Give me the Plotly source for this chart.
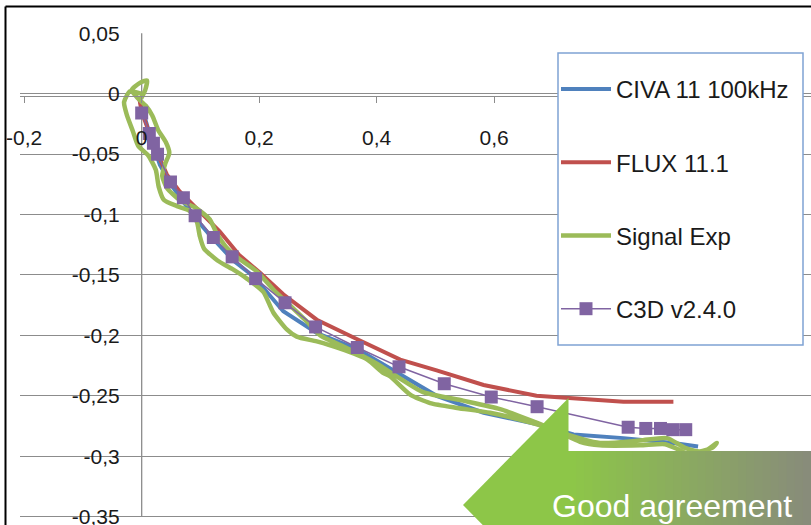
import plotly.graph_objects as go

# ---------------- data ----------------
civa_x = [-0.003, 0.014, 0.031, 0.054, 0.088, 0.116, 0.156, 0.190, 0.241, 0.298, 0.366,
          0.440, 0.502, 0.582, 0.678, 0.735, 0.820, 0.905, 0.947]
civa_y = [-0.006, -0.034, -0.059, -0.078, -0.101, -0.117, -0.138, -0.151, -0.180, -0.198, -0.211,
          -0.232, -0.250, -0.264, -0.274, -0.282, -0.285, -0.289, -0.292]

flux_x = [-0.004, 0.000, 0.020, 0.043, 0.065, 0.099, 0.133, 0.167, 0.201, 0.241, 0.298,
          0.366, 0.440, 0.502, 0.582, 0.672, 0.723, 0.820, 0.905]
flux_y = [-0.004, -0.015, -0.042, -0.067, -0.081, -0.098, -0.114, -0.134, -0.148, -0.166, -0.187,
          -0.203, -0.220, -0.229, -0.241, -0.250, -0.252, -0.255, -0.255]

sig_x = [-0.001, 0.006, 0.009, -0.003, -0.017, -0.006, 0.007, 0.018, 0.028, 0.041, 0.047,
         0.040, 0.035, 0.043, 0.065, 0.094, 0.116, 0.127, 0.144, 0.167, 0.196, 0.224,
         0.252, 0.280, 0.304, 0.338, 0.372, 0.406, 0.431, 0.479, 0.547, 0.610, 0.671,
         0.712, 0.780, 0.848, 0.894, 0.925, 0.950, 0.971, 0.979,
         0.959, 0.938, 0.916, 0.891, 0.848, 0.780, 0.746, 0.705, 0.661, 0.593, 0.537,
         0.491, 0.457, 0.423, 0.411, 0.384, 0.338, 0.298, 0.264, 0.247, 0.224, 0.207,
         0.179, 0.154, 0.129, 0.106, 0.099, 0.094, 0.082, 0.060, 0.038, 0.029, 0.024,
         0.011, -0.006, -0.015, -0.025, -0.030, -0.020, -0.001]
sig_y = [-0.004, 0.003, 0.011, 0.009, 0.003, -0.004, -0.010, -0.018, -0.030, -0.040, -0.049,
         -0.058, -0.068, -0.078, -0.088, -0.095, -0.104, -0.115, -0.127, -0.137, -0.147, -0.162,
         -0.175, -0.188, -0.200, -0.208, -0.216, -0.225, -0.233, -0.247, -0.254, -0.261, -0.272,
         -0.280, -0.289, -0.287, -0.285, -0.293, -0.296, -0.293, -0.289,
         -0.296, -0.300, -0.295, -0.290, -0.291, -0.291, -0.288, -0.279, -0.272, -0.264, -0.260,
         -0.256, -0.249, -0.234, -0.231, -0.220, -0.211, -0.205, -0.201, -0.195, -0.181, -0.164,
         -0.153, -0.145, -0.138, -0.128, -0.118, -0.106, -0.097, -0.093, -0.088, -0.077, -0.063,
         -0.051, -0.043, -0.031, -0.018, -0.007, 0.002, 0.000]

c3d_x = [0.000, 0.013, 0.020, 0.027, 0.049, 0.071, 0.091, 0.122, 0.154, 0.194, 0.244,
         0.296, 0.367, 0.438, 0.515, 0.595, 0.673, 0.828, 0.858, 0.883, 0.904, 0.926]
c3d_y = [-0.016, -0.033, -0.041, -0.050, -0.073, -0.086, -0.101, -0.119, -0.135, -0.153, -0.173,
         -0.193, -0.210, -0.226, -0.240, -0.251, -0.259, -0.276, -0.277, -0.277, -0.278, -0.278]

series_names = ["CIVA 11 100kHz", "FLUX 11.1", "Signal Exp", "C3D v2.4.0"]

x_ticks = [-0.2, 0, 0.2, 0.4, 0.6, 0.8, 1.0]
x_labels = ["-0,2", "0", "0,2", "0,4", "0,6", "0,8", "1"]
y_ticks = [0.05, 0, -0.05, -0.1, -0.15, -0.2, -0.25, -0.3, -0.35]
y_labels = ["0,05", "0", "-0,05", "-0,1", "-0,15", "-0,2", "-0,25", "-0,3", "-0,35"]

annotation_text = "Good agreement"

# ---------------- layout helpers (pixel -> paper) ----------------
W, H = 811, 525
def px(v):
    return v / W
def py(v):
    return 1 - v / H

GRID = "#8c8c8c"
FONT = "Liberation Sans, Arial, sans-serif"

fig = go.Figure()
fig.add_trace(go.Scatter(x=civa_x, y=civa_y, mode="lines", name=series_names[0],
                         legendgroup="a", line=dict(color="#4f81bd", width=4)))
fig.add_trace(go.Scatter(x=flux_x, y=flux_y, mode="lines", name=series_names[1],
                         legendgroup="b", line=dict(color="#c0504d", width=4)))
fig.add_trace(go.Scatter(x=sig_x, y=sig_y, mode="lines", name=series_names[2],
                         legendgroup="c", line=dict(color="#9bbb59", width=4.5, shape="spline",
                                                    smoothing=0.6)))
fig.add_trace(go.Scatter(x=c3d_x, y=c3d_y, mode="lines+markers", name=series_names[3],
                         legendgroup="d", line=dict(color="#8064a2", width=1.5),
                         marker=dict(symbol="square", size=13, color="#8064a2")))

shapes = []
# legend box
shapes.append(dict(type="rect", xref="paper", yref="paper", layer="above",
                   x0=px(558), x1=px(803), y0=py(345), y1=py(53),
                   fillcolor="white", line=dict(color="#7fa3d4", width=1.5)))
# frame (top and left black lines)
shapes.append(dict(type="line", xref="paper", yref="paper", layer="above",
                   x0=px(5.5), x1=px(811), y0=py(6.5), y1=py(6.5),
                   line=dict(color="black", width=2)))
shapes.append(dict(type="line", xref="paper", yref="paper", layer="above",
                   x0=px(5.5), x1=px(5.5), y0=py(6.5), y1=py(525),
                   line=dict(color="black", width=2)))

# arrow: head + gradient body
c0 = (141, 198, 72)
c1 = (136, 140, 122)
bx0, bx1 = 568, 811
n = 30
for i in range(n):
    t = i / (n - 1)
    col = tuple(int(round(c0[k] + (c1[k] - c0[k]) * t)) for k in range(3))
    xa = bx0 + (bx1 - bx0) * i / n
    xb = bx0 + (bx1 - bx0) * (i + 1) / n + 1
    shapes.append(dict(type="rect", xref="paper", yref="paper", layer="above",
                       x0=px(xa), x1=px(xb), y0=py(559), y1=py(451),
                       fillcolor="rgb(%d,%d,%d)" % col, line=dict(width=0)))
shapes.append(dict(type="path", xref="paper", yref="paper", layer="above",
                   path="M %f %f L %f %f L %f %f Z" % (px(463), py(505), px(568.5), py(398),
                                                       px(568.5), py(612)),
                   fillcolor="rgb(%d,%d,%d)" % c0, line=dict(width=0)))

fig.update_layout(
    width=W, height=H,
    margin=dict(l=0, r=0, t=0, b=0, autoexpand=False),
    paper_bgcolor="white", plot_bgcolor="white",
    font=dict(family=FONT, size=21, color="#1a1a1a"),
    shapes=shapes,
    showlegend=True,
    legend=dict(x=px(556), y=py(67), xanchor="left", yanchor="top",
                bgcolor="rgba(0,0,0,0)", borderwidth=0,
                font=dict(size=24, color="#1a1a1a", family=FONT),
                itemwidth=50, traceorder="grouped", tracegroupgap=39),
    annotations=[dict(text=annotation_text, xref="paper", yref="paper",
                      x=px(672), y=py(506), xanchor="center", yanchor="middle",
                      showarrow=False,
                      font=dict(size=32, color="white", family=FONT))],
    xaxis=dict(domain=[px(20), 1], range=[-0.2071, 1.1392], automargin=False,
               showgrid=False, zeroline=False, showline=True, linecolor=GRID, linewidth=1.3,
               anchor="free", position=py(95.7),
               tickvals=x_ticks, ticktext=x_labels, ticks="outside", ticklen=6,
               tickcolor=GRID, tickwidth=1.3, ticklabelstandoff=17),
    yaxis=dict(domain=[0, py(32.7)], range=[-0.3569, 0.0505], automargin=False,
               showgrid=True, gridcolor=GRID, gridwidth=1.3, zeroline=False,
               showline=False,
               anchor="free", position=px(141.7), ticklabeloverflow="allow",
               tickvals=y_ticks, ticktext=y_labels, ticks="", ticklabelstandoff=22),
)
# vertical y axis line from -0.35 to 0.05 (Excel-style axis extent)
fig.add_shape(type="line", xref="x", yref="y", x0=0, x1=0, y0=y_ticks[-1], y1=y_ticks[0],
              line=dict(color=GRID, width=1.3), layer="below")

fig.write_html("out.html")
